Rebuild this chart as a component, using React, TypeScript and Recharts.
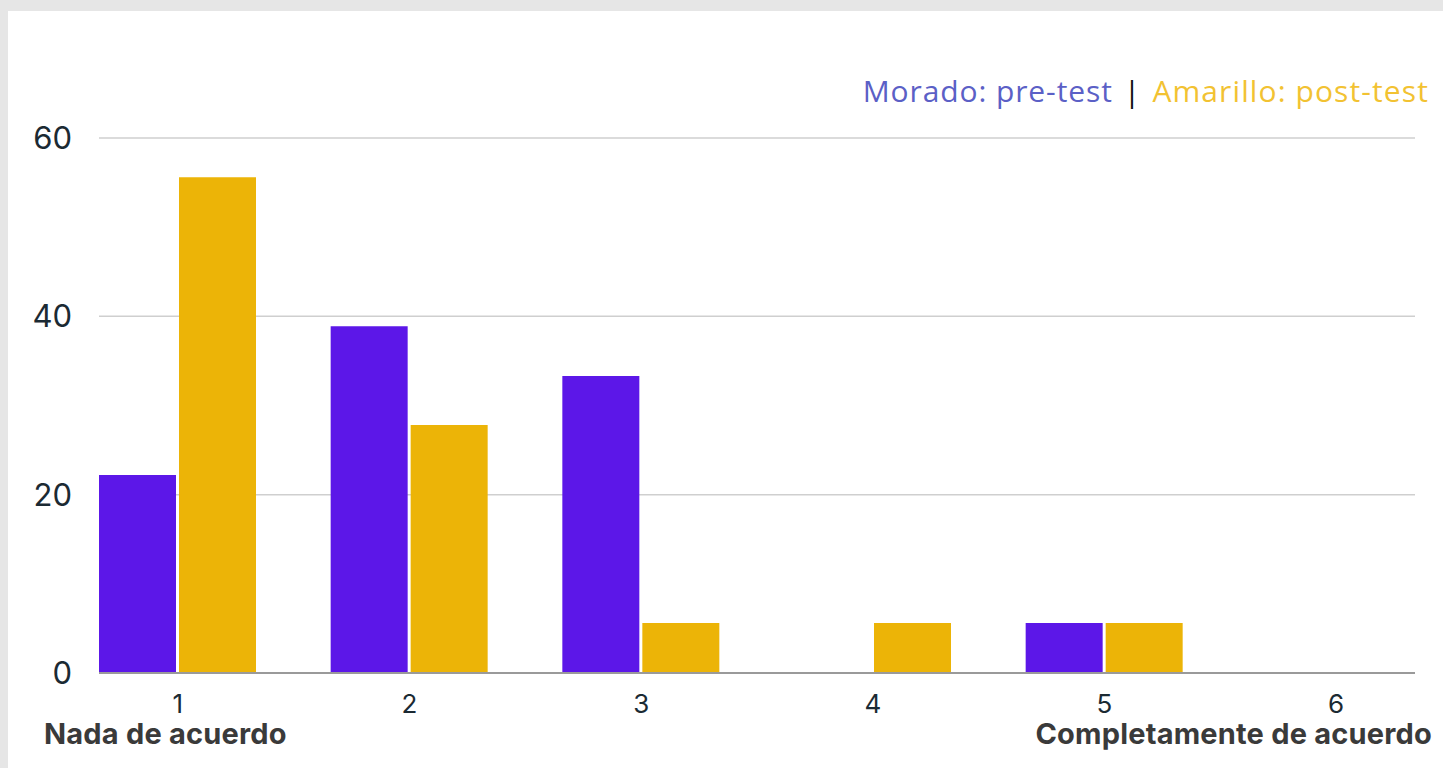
import React from "react";
import { Bar, BarChart, CartesianGrid, XAxis, YAxis } from "recharts";

const categories = ["1", "2", "3", "4", "5", "6"];
const preTest = [22.2, 38.9, 33.3, 0, 5.6, 0];
const postTest = [55.6, 27.8, 5.6, 5.6, 5.6, 0];
const yTicks = [0, 20, 40, 60];

const data = categories.map((c, i) => ({
  name: c,
  pre: preTest[i],
  post: postTest[i],
}));

const PURPLE = "#5c17e8";
const YELLOW = "#ecb407";

const endLabel: React.CSSProperties = {
  position: "absolute",
  top: 712,
  fontSize: 29,
  fontWeight: 700,
  fontFamily: "Inter, sans-serif",
  letterSpacing: 0.2,
  color: "#3a3a3a",
  whiteSpace: "nowrap",
  lineHeight: "22px",
};

export default function App() {
  return (
    <div style={{ position: "fixed", inset: 0, background: "#e6e6e6" }}>
      <div
        style={{
          position: "absolute",
          left: 8,
          top: 11,
          width: 1435,
          height: 757,
          background: "#ffffff",
        }}
      >
        <div
          style={{
            position: "absolute",
            right: 14,
            top: 60,
            fontSize: 30,
            fontWeight: 400,
            letterSpacing: 1.1,
            fontFamily: "'Open Sans', sans-serif",
            whiteSpace: "nowrap",
            lineHeight: "40px",
          }}
        >
          <span style={{ color: "#5b60c6", letterSpacing: 0.9 }}>Morado: pre-test</span>
          <span style={{ color: "#111", margin: "0 11px" }}>|</span>
          <span style={{ color: "#f2c232" }}>Amarillo: post-test</span>
        </div>

        <BarChart
          width={1435}
          height={757}
          data={data}
          margin={{ top: 127, right: 28, bottom: 55, left: 0 }}
          barCategoryGap={37}
          barGap={3}
        >
          <CartesianGrid vertical={false} stroke="#cfcfcf" strokeWidth={1.5} />
          <XAxis
            dataKey="name"
            height={40}
            padding={{ left: -37, right: -37 }}
            axisLine={{ stroke: "#9a9a9a", strokeWidth: 2 }}
            tickLine={false}
            tickSize={0}
            tickMargin={22}
            tick={{ fill: "#1b2a33", fontSize: 26, fontFamily: "Inter, sans-serif" }}
          />
          <YAxis
            width={91}
            domain={[0, 60]}
            ticks={yTicks}
            axisLine={false}
            tickLine={false}
            tickSize={0}
            tickMargin={27}
            tick={{ fill: "#1b2a33", fontSize: 31, fontFamily: "Inter, sans-serif" }}
          />
          <Bar dataKey="pre" fill={PURPLE} isAnimationActive={false} />
          <Bar dataKey="post" fill={YELLOW} isAnimationActive={false} />
        </BarChart>

        <div style={{ ...endLabel, left: 36 }}>Nada de acuerdo</div>
        <div style={{ ...endLabel, right: 11 }}>Completamente de acuerdo</div>
      </div>
    </div>
  );
}
